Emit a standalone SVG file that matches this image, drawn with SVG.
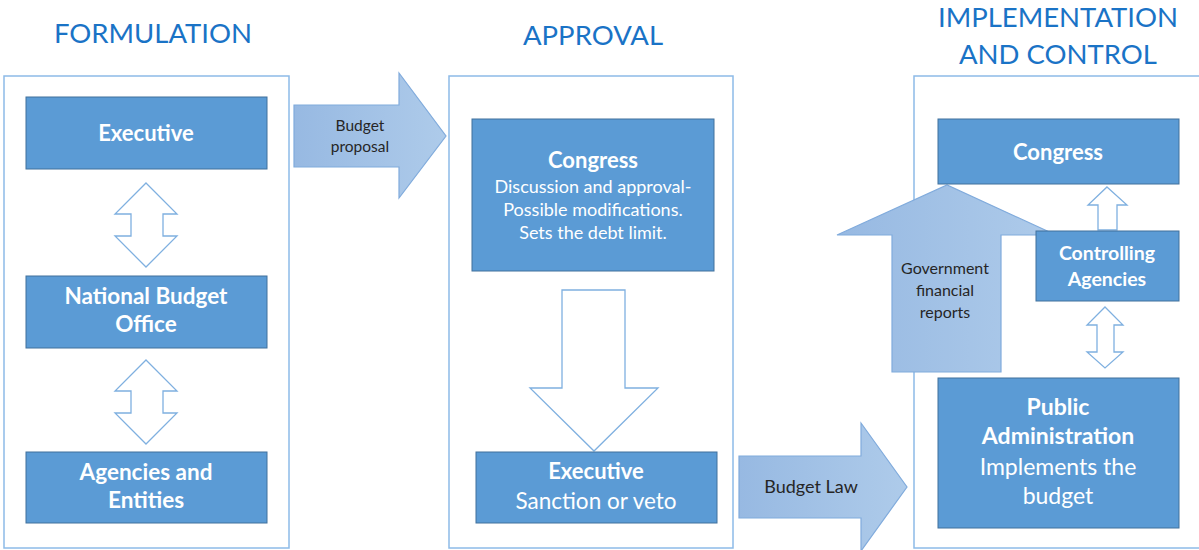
<svg xmlns="http://www.w3.org/2000/svg" width="1199" height="550" viewBox="0 0 1199 550">
  <defs>
    <linearGradient id="flowFill" x1="0" y1="0" x2="1" y2="0">
      <stop offset="0" stop-color="#97B9E2"/>
      <stop offset="1" stop-color="#AECBEA"/>
    </linearGradient>
    <style>
      .title { font-family: Lato, "Liberation Sans", sans-serif; font-size: 27.5px; fill: #1A73C6; text-anchor: middle; }
      .panel { fill: #FFFFFF; stroke: #8DBBE8; stroke-width: 1.5; }
      .box { fill: #5B9BD5; stroke: #41719C; stroke-width: 1; }
      .hollow { fill: #FFFFFF; stroke: #7FB0E0; stroke-width: 1.3; }
      .flow { fill: url(#flowFill); stroke: #80ABDC; stroke-width: 1.2; }
      .bt { font-family: Lato, "Liberation Sans", sans-serif; font-weight: bold; fill: #FFFFFF; text-anchor: middle; }
      .rt { font-family: Lato, "Liberation Sans", sans-serif; fill: #FFFFFF; text-anchor: middle; }
      .lbl { font-family: Lato, "Liberation Sans", sans-serif; fill: #262626; text-anchor: middle; }
    </style>
  </defs>

  <!-- stage titles -->
  <text class="title" x="153" y="43">FORMULATION</text>
  <text class="title" x="593" y="45">APPROVAL</text>
  <text class="title" x="1058" y="27">IMPLEMENTATION</text>
  <text class="title" x="1058" y="64">AND CONTROL</text>

  <!-- stage panels -->
  <g id="panel-formulation"><rect class="panel" x="4" y="76" width="285" height="472"/></g>
  <g id="panel-approval"><rect class="panel" x="449" y="76" width="284" height="472"/></g>
  <g id="panel-implementation"><rect class="panel" x="914" y="76" width="300" height="472"/></g>

  <!-- connectors -->
  <g id="connectors">
    <!-- two-way arrows in formulation -->
    <polygon class="hollow" points="146,183 177,214 163,214 163,236 177,236 146,267 115,236 131,236 131,214 115,214"/>
    <polygon class="hollow" points="146,360 177,391 163,391 163,413 177,413 146,444 115,413 131,413 131,391 115,391"/>
    <!-- budget proposal -->
    <polygon class="flow" points="294,105 399,105 399,73 446,136 399,198 399,167 294,167"/>
    <!-- approval flow down -->
    <polygon class="hollow" points="562,290 625,290 625,388 658,388 594,451 530,388 562,388"/>
    <!-- budget law -->
    <polygon class="flow" points="739,456 861,456 861,423 907,487 861,551 861,518 739,518"/>
    <!-- government financial reports -->
    <polygon class="flow" points="892,372 892,235 837,235 947,185 1056,235 1001,235 1001,372"/>
    <!-- controlling agencies to congress -->
    <polygon class="hollow" points="1107,187 1127,205 1117,205 1117,230 1098,230 1098,205 1088,205"/>
    <!-- controlling agencies to public administration -->
    <polygon class="hollow" points="1105,307 1123,325 1114,325 1114,352 1123,352 1105,368 1087,352 1097,352 1097,325 1087,325"/>
    <text class="lbl" x="360" y="131" font-size="15.5">Budget</text>
    <text class="lbl" x="360" y="152" font-size="15.5">proposal</text>
    <text class="lbl" x="811" y="493" font-size="18">Budget Law</text>
    <text class="lbl" x="945" y="274" font-size="16">Government</text>
    <text class="lbl" x="945" y="296" font-size="16">financial</text>
    <text class="lbl" x="945" y="318" font-size="16">reports</text>
  </g>

  <!-- formulation nodes -->
  <g id="executive-formulation">
    <rect class="box" x="26" y="97" width="241" height="72"/>
    <text class="bt" x="146" y="141" font-size="22">Executive</text>
  </g>
  <g id="national-budget-office">
    <rect class="box" x="26" y="276" width="241" height="72"/>
    <text class="bt" x="146" y="304" font-size="22.5">National Budget</text>
    <text class="bt" x="146" y="332" font-size="22.5">Office</text>
  </g>
  <g id="agencies-entities">
    <rect class="box" x="26" y="452" width="241" height="71"/>
    <text class="bt" x="146" y="480" font-size="22.5">Agencies and</text>
    <text class="bt" x="146" y="508" font-size="22.5">Entities</text>
  </g>

  <!-- approval nodes -->
  <g id="congress-approval">
    <rect class="box" x="472" y="119" width="242" height="152"/>
    <text class="bt" x="593" y="168" font-size="22">Congress</text>
    <text class="rt" x="593" y="193" font-size="18">Discussion and approval-</text>
    <text class="rt" x="593" y="216" font-size="18">Possible modifications.</text>
    <text class="rt" x="593" y="239" font-size="18">Sets the debt limit.</text>
  </g>
  <g id="executive-approval">
    <rect class="box" x="476" y="452" width="241" height="71"/>
    <text class="bt" x="596" y="479" font-size="22">Executive</text>
    <text class="rt" x="596" y="509" font-size="22.5">Sanction or veto</text>
  </g>

  <!-- implementation and control nodes -->
  <g id="congress-control">
    <rect class="box" x="938" y="119" width="241" height="65"/>
    <text class="bt" x="1058" y="160" font-size="22">Congress</text>
  </g>
  <g id="controlling-agencies">
    <rect class="box" x="1036" y="231" width="143" height="70"/>
    <text class="bt" x="1107" y="260" font-size="19.5">Controlling</text>
    <text class="bt" x="1107" y="286" font-size="19.5">Agencies</text>
  </g>
  <g id="public-administration">
    <rect class="box" x="938" y="378" width="241" height="150"/>
    <text class="bt" x="1058" y="415" font-size="23">Public</text>
    <text class="bt" x="1058" y="444" font-size="23">Administration</text>
    <text class="rt" x="1058" y="475" font-size="23">Implements the</text>
    <text class="rt" x="1058" y="504" font-size="23">budget</text>
  </g>
</svg>
